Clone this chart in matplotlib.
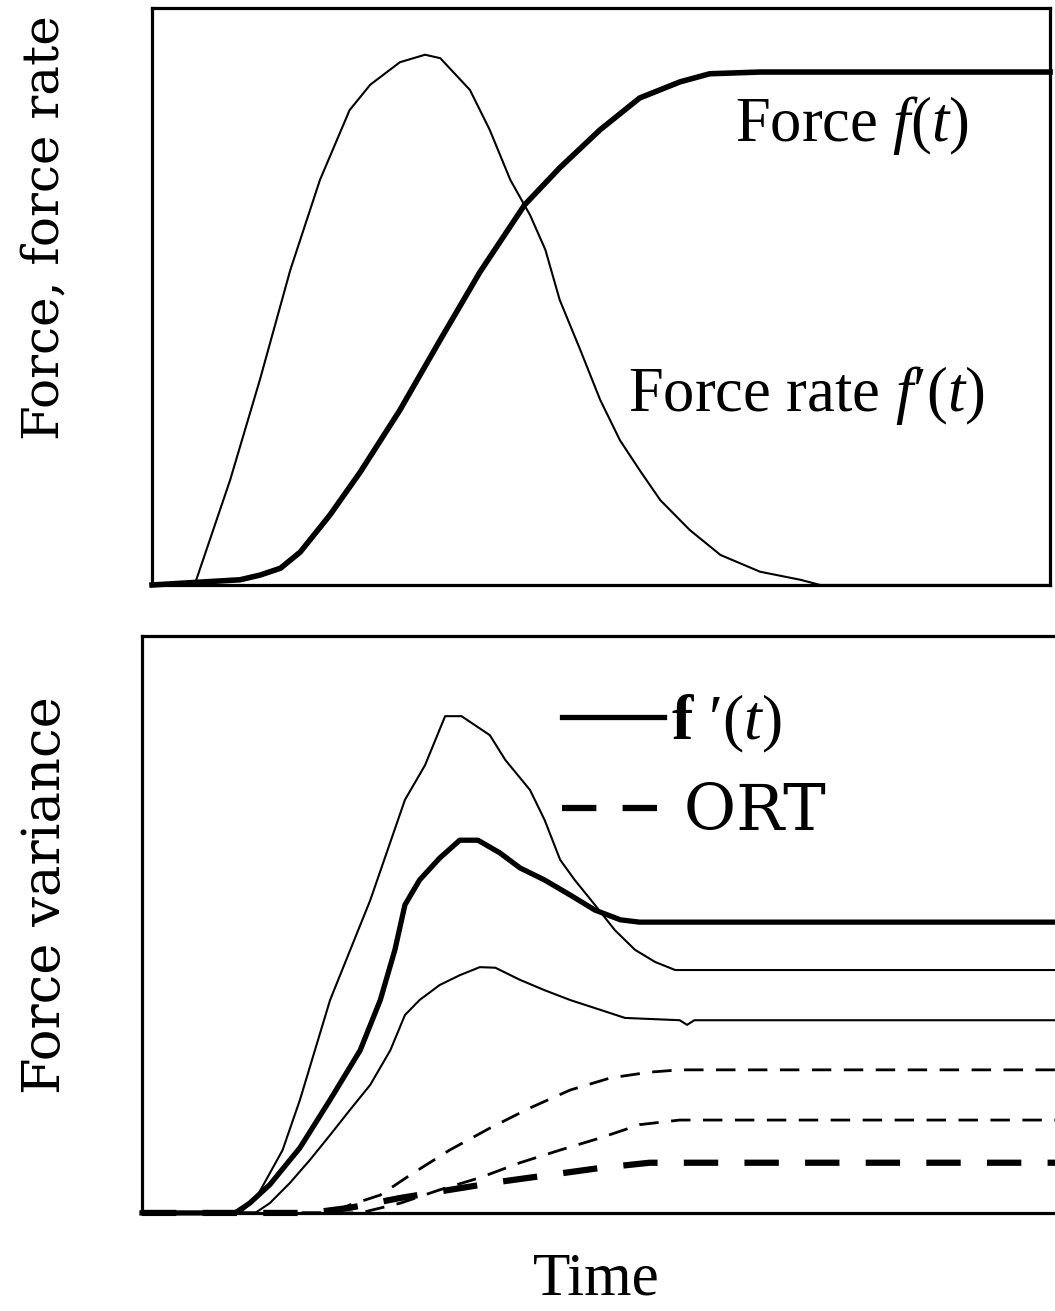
import matplotlib
matplotlib.use("Agg")
import matplotlib.pyplot as plt

plt.rcParams["font.family"] = ["Liberation Serif", "DejaVu Serif"]
plt.rcParams["mathtext.fontset"] = "custom"
plt.rcParams["mathtext.rm"] = "Liberation Serif"
plt.rcParams["mathtext.it"] = "Liberation Serif:italic"
plt.rcParams["mathtext.bf"] = "Liberation Serif:bold"

# ---- top panel: force and force rate (time 0..100, value 0..1)
rate_t = [0, 4.8, 5.3, 8.7, 12.0, 15.4, 18.7, 22.0, 24.3, 27.6, 30.4, 32.1, 35.4,
          37.6, 39.9, 42.1, 43.8, 45.4, 47.7, 49.9, 52.1, 54.3, 56.6, 59.9, 63.3,
          67.7, 72.2, 74.4, 100]
rate_v = [0, 0.003, 0.026, 0.182, 0.355, 0.546, 0.702, 0.823, 0.867, 0.906, 0.919,
          0.913, 0.858, 0.789, 0.702, 0.641, 0.581, 0.494, 0.407, 0.321, 0.251,
          0.199, 0.147, 0.095, 0.052, 0.023, 0.009, 0, 0]

force_t = [0, 9.8, 12.0, 14.3, 16.5, 19.8, 23.2, 27.6, 32.1, 36.5, 41.5, 45.4,
           49.9, 54.3, 58.8, 62.1, 67.7, 100]
force_v = [0, 0.009, 0.017, 0.029, 0.057, 0.121, 0.196, 0.303, 0.425, 0.542,
           0.659, 0.723, 0.789, 0.844, 0.872, 0.886, 0.889, 0.889]

# ---- bottom panel: force variance, f'(t) group (solid) and ORT group (dashed)
fp_hi_t = [0, 10.7, 12.4, 15.4, 17.3, 20.6, 25.0, 28.8, 31.0, 33.2, 35.0, 38.1,
           39.8, 42.5, 44.1, 45.8, 47.4, 49.6, 51.8, 54.0, 56.2, 58.4, 100]
fp_hi_v = [0, 0, 0.023, 0.109, 0.196, 0.369, 0.542, 0.716, 0.776, 0.861, 0.861,
           0.828, 0.785, 0.733, 0.681, 0.612, 0.577, 0.534, 0.490, 0.456, 0.435,
           0.421, 0.421]

fp_mid_t = [0, 10.2, 11.8, 14.0, 17.3, 20.6, 23.9, 26.1, 27.7, 28.8, 30.4, 32.6,
            34.8, 36.8, 39.2, 41.4, 44.1, 46.9, 49.6, 52.4, 54.5, 100]
fp_mid_v = [0, 0, 0.017, 0.049, 0.113, 0.196, 0.282, 0.369, 0.456, 0.534, 0.577,
            0.615, 0.646, 0.646, 0.624, 0.598, 0.577, 0.551, 0.525, 0.508, 0.504,
            0.504]

fp_lo_t = [0, 12.4, 14.0, 16.2, 18.4, 20.6, 22.8, 25.0, 27.2, 28.8, 30.4, 32.6,
           34.8, 37.0, 38.7, 41.4, 44.1, 46.9, 50.2, 52.9, 58.9, 59.7, 60.5, 100]
fp_lo_v = [0, 0, 0.017, 0.052, 0.092, 0.135, 0.179, 0.222, 0.282, 0.343, 0.369,
           0.395, 0.412, 0.426, 0.425, 0.404, 0.386, 0.369, 0.352, 0.338, 0.334,
           0.326, 0.334, 0.334]

ort_hi_t = [0, 20.6, 22.8, 26.1, 29.4, 33.7, 38.1, 42.5, 46.9, 51.3, 55.6, 58.9, 100]
ort_hi_v = [0, 0, 0.014, 0.031, 0.066, 0.109, 0.147, 0.182, 0.213, 0.234, 0.244,
            0.248, 0.248]

ort_mid_t = [0, 23.9, 28.3, 32.6, 37.0, 41.4, 45.8, 50.2, 54.5, 58.9, 100]
ort_mid_v = [0, 0, 0.017, 0.040, 0.061, 0.087, 0.109, 0.130, 0.153, 0.161, 0.161]

ort_lo_t = [0, 18.4, 22.8, 28.3, 33.7, 39.2, 44.7, 50.2, 55.6, 100]
ort_lo_v = [0, 0, 0.009, 0.026, 0.040, 0.054, 0.066, 0.078, 0.087, 0.087]

fig = plt.figure(figsize=(10.55, 13.11), dpi=100)
ax1 = fig.add_axes([0.1441, 0.5538, 0.8512, 0.4401])
ax2 = fig.add_axes([0.1346, 0.0748, 0.8654, 0.4401])

for ax in (ax1, ax2):
    ax.set_xlim(0, 100)
    ax.set_ylim(0, 1)
    ax.set_xticks([])
    ax.set_yticks([])
    for sp in ax.spines.values():
        sp.set_linewidth(2.3)
ax2.spines["right"].set_visible(False)

# top panel
ax1.plot(rate_t, rate_v, color="black", lw=1.5, clip_on=False)
ax1.plot(force_t, force_v, color="black", lw=4, clip_on=False)
ax1.text(64.9, 0.797, "Force $f$($t$)", fontsize=45, va="center", ha="left")
ax1.text(53.0, 0.329, "Force rate $f$\u2032($t$)", fontsize=45, va="center",
         ha="left")
ax1.set_ylabel("Force, force rate", family="DejaVu Serif", fontsize=36,
               va="center")
ax1.yaxis.set_label_coords(-0.119, 0.62)

# bottom panel
ax2.plot(fp_hi_t, fp_hi_v, color="black", lw=1.5, clip_on=False)
ax2.plot(fp_mid_t, fp_mid_v, color="black", lw=3.8, clip_on=False,
         label="$\\mathbf{f}$ \u2032($t$)")
ax2.plot(fp_lo_t, fp_lo_v, color="black", lw=1.5, clip_on=False)
ax2.plot(ort_hi_t, ort_hi_v, color="black", lw=2, dashes=(7, 4.5), clip_on=False)
ax2.plot(ort_mid_t, ort_mid_v, color="black", lw=2, dashes=(7, 4.5), clip_on=False)
ax2.plot(ort_lo_t, ort_lo_v, color="black", lw=4.5, dashes=(5.5, 4.2),
         clip_on=False, label="ORT")

leg = ax2.legend(loc="upper left", bbox_to_anchor=(0.46, 0.901), frameon=False,
                 fontsize=46, handlelength=1.6, handletextpad=0.1,
                 borderpad=0, borderaxespad=0, labelspacing=0.42)
leg.get_texts()[1].set_fontfamily("DejaVu Serif")
leg.get_texts()[1].set_fontsize(46)
leg.get_texts()[1].set_text("\u2009ORT")

ax2.set_ylabel("Force variance", family="DejaVu Serif", fontsize=38,
               va="center")
ax2.yaxis.set_label_coords(-0.106, 0.551)
ax2.set_xlabel("Time", fontsize=44, va="center")
ax2.xaxis.set_label_coords(0.498, -0.116)

fig.savefig("out.png", dpi=100)
